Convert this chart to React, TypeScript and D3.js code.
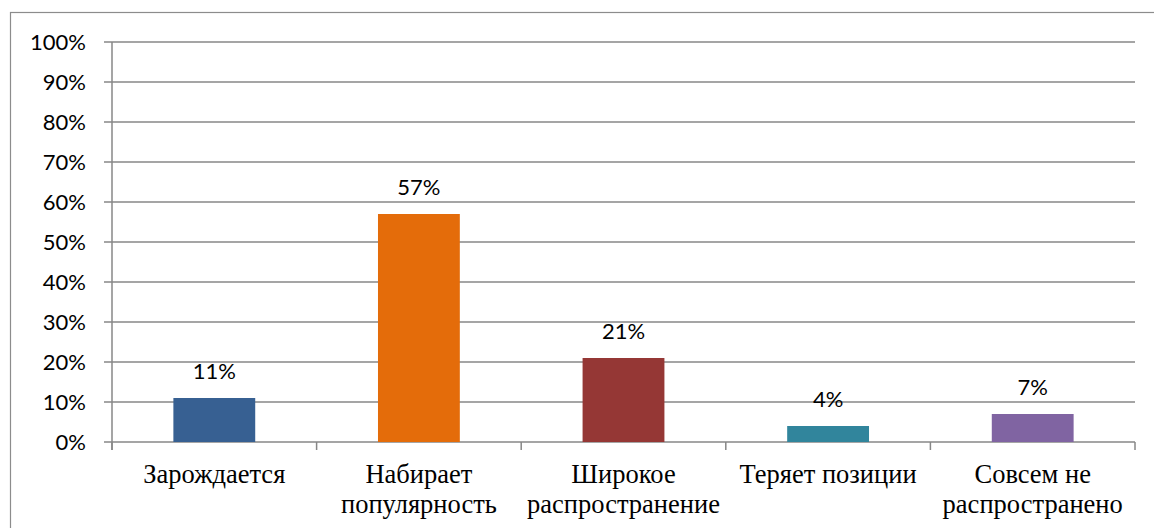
import React, { useEffect, useRef } from "react";
import * as d3 from "d3";

const categories = [
  ["Зарождается"],
  ["Набирает", "популярность"],
  ["Широкое", "распространение"],
  ["Теряет позиции"],
  ["Совсем не", "распространено"],
];
const values = [11, 57, 21, 4, 7];
const colors = ["#376092", "#E46C0A", "#953735", "#31859C", "#8064A2"];
const yTicks = [0, 10, 20, 30, 40, 50, 60, 70, 80, 90, 100];

const W = 1154;
const H = 528;

const SANS = "Lato, 'Open Sans', sans-serif";
const SERIF = "'Liberation Serif', 'DejaVu Serif', 'Times New Roman', serif";

const App: React.FC = () => {
  const ref = useRef<SVGSVGElement | null>(null);

  useEffect(() => {
    const svg = d3.select(ref.current);
    svg.selectAll("*").remove();

    const left = 112;
    const right = 1135;
    const top = 42;
    const bottom = 442;

    // chart frame (runs off the right and bottom edges)
    svg
      .append("rect")
      .attr("x", 10.5)
      .attr("y", 12.5)
      .attr("width", 1160)
      .attr("height", 540)
      .attr("fill", "#fff")
      .attr("stroke", "#8c8c8c")
      .attr("stroke-width", 1.2);

    const x = d3
      .scaleBand<number>()
      .domain(d3.range(values.length))
      .range([left, right])
      .paddingInner(0.6)
      .paddingOuter(0.3);
    const y = d3.scaleLinear().domain([0, 100]).range([bottom, top]);

    const grid = svg.append("g");
    yTicks.forEach(t => {
      grid
        .append("line")
        .attr("x1", left - 8)
        .attr("x2", right)
        .attr("y1", y(t))
        .attr("y2", y(t))
        .attr("stroke", "#878787")
        .attr("stroke-width", 1.5);
      grid
        .append("text")
        .attr("x", 86)
        .attr("y", y(t) + 7.5)
        .attr("text-anchor", "end")
        .style("font-family", SANS)
        .style("font-size", "22px")
        .attr("fill", "#000")
        .text(`${t}%`);
    });

    // y axis line
    grid
      .append("line")
      .attr("x1", left)
      .attr("x2", left)
      .attr("y1", top)
      .attr("y2", bottom + 8)
      .attr("stroke", "#878787")
      .attr("stroke-width", 1.5);

    // category ticks
    const step = (right - left) / values.length;
    d3.range(values.length + 1).forEach(i => {
      grid
        .append("line")
        .attr("x1", left + i * step)
        .attr("x2", left + i * step)
        .attr("y1", bottom)
        .attr("y2", bottom + 8)
        .attr("stroke", "#878787")
        .attr("stroke-width", 1.5);
    });

    const bars = svg.append("g");
    values.forEach((v, i) => {
      bars
        .append("rect")
        .attr("x", x(i)!)
        .attr("y", y(v))
        .attr("width", x.bandwidth())
        .attr("height", y(0) - y(v))
        .attr("fill", colors[i]);
      bars
        .append("text")
        .attr("x", x(i)! + x.bandwidth() / 2)
        .attr("y", y(v) - 19)
        .attr("text-anchor", "middle")
        .style("font-family", SANS)
        .style("font-size", "22px")
        .attr("fill", "#000")
        .text(`${v}%`);

      const cx = left + (i + 0.5) * step;
      categories[i].forEach((line, j) => {
        bars
          .append("text")
          .attr("x", cx)
          .attr("y", 483 + j * 30)
          .attr("text-anchor", "middle")
          .style("font-family", SERIF)
          .style("font-size", "26.5px")
          .attr("fill", "#000")
          .text(line);
      });
    });
  }, []);

  return (
    <svg
      ref={ref}
      width={W}
      height={H}
      style={{ position: "absolute", left: 0, top: 0 }}
    ></svg>
  );
};

export default App;
